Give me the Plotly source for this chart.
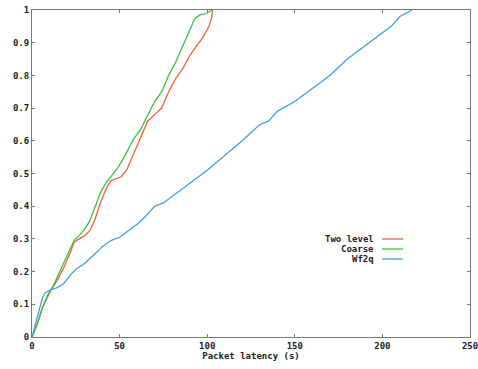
import plotly.graph_objects as go

names = ["Two level", "Coarse", "Wf2q"]
colors = ["#f0603c", "#3cc040", "#40a0e6"]

two_x = [0, 3, 6, 9, 11, 14, 18, 22, 24, 27, 30, 33, 36, 39, 42, 45, 48, 51, 54, 58, 62, 66, 70, 74, 78, 82, 86, 90, 94, 98, 101, 102.5, 103]
two_y = [0, 0.04, 0.09, 0.125, 0.145, 0.17, 0.21, 0.26, 0.29, 0.3, 0.31, 0.325, 0.36, 0.41, 0.45, 0.478, 0.485, 0.49, 0.51, 0.56, 0.61, 0.66, 0.68, 0.70, 0.75, 0.79, 0.82, 0.86, 0.89, 0.92, 0.95, 0.975, 1.0]

coarse_x = [0, 3, 6, 9, 12, 15, 18, 21, 24, 27, 30, 33, 36, 39, 42, 45, 48, 51, 54, 58, 62, 66, 70, 74, 78, 82, 86, 90, 93, 96, 100, 102.5]
coarse_y = [0, 0.04, 0.09, 0.13, 0.155, 0.19, 0.225, 0.26, 0.295, 0.31, 0.33, 0.355, 0.395, 0.44, 0.47, 0.49, 0.51, 0.535, 0.565, 0.605, 0.635, 0.68, 0.72, 0.75, 0.8, 0.84, 0.89, 0.94, 0.975, 0.985, 0.99, 1.0]

wf_x = [0, 3, 6, 7.5, 10, 14, 18, 22, 25, 30, 35, 40, 45, 50, 55, 60, 65, 70, 75, 80, 90, 100, 110, 120, 130, 135, 140, 150, 160, 170, 180, 190, 200, 205, 210, 217]
wf_y = [0, 0.06, 0.12, 0.135, 0.143, 0.15, 0.163, 0.19, 0.207, 0.225, 0.25, 0.275, 0.295, 0.305, 0.325, 0.345, 0.37, 0.4, 0.41, 0.43, 0.47, 0.51, 0.555, 0.6, 0.65, 0.66, 0.69, 0.72, 0.76, 0.8, 0.85, 0.89, 0.93, 0.95, 0.98, 1.0]

x_ticks = [0, 50, 100, 150, 200, 250]
y_ticks = [0, 0.1, 0.2, 0.3, 0.4, 0.5, 0.6, 0.7, 0.8, 0.9, 1]
y_labels = ["0", "0.1", "0.2", "0.3", "0.4", "0.5", "0.6", "0.7", "0.8", "0.9", "1"]
x_title = "Packet latency (s)"

series = [(two_x, two_y), (coarse_x, coarse_y), (wf_x, wf_y)]

font = dict(family="DejaVu Sans Mono", size=9, color="#222")

fig = go.Figure()
for (xs, ys), n, c in zip(series, names, colors):
    fig.add_trace(go.Scatter(x=xs, y=ys, mode="lines", name=n,
                             line=dict(color=c, width=1.3), showlegend=False,
                             cliponaxis=False))

# gnuplot-style key: right-aligned text then a line sample
leg_y0 = 239
for i, (n, c) in enumerate(zip(names, colors)):
    ypx = leg_y0 + i * 10
    yp = 1 - (ypx - 10) / 327
    xp_text = (376 - 32) / 438
    fig.add_annotation(x=xp_text, y=yp, xref="paper", yref="paper", text="<b>%s</b>" % n,
                       showarrow=False, xanchor="right", yanchor="middle", font=font)
    fig.add_shape(type="line", xref="paper", yref="paper",
                  x0=(382 - 32) / 438, x1=(403 - 32) / 438, y0=yp, y1=yp,
                  line=dict(color=c, width=1.3))

axis_common = dict(showgrid=False, zeroline=False, showline=True, linecolor="#777",
                   linewidth=1, mirror="ticks", ticks="inside", ticklen=3,
                   tickcolor="#777", tickfont=font, automargin=False,
                   ticklabeloverflow="allow")

fig.update_xaxes(range=[0, 250], tickvals=x_ticks,
                 ticktext=["<b>%d</b>" % v for v in x_ticks],
                 title=dict(text="<b>%s</b>" % x_title, font=font, standoff=2),
                 **axis_common)
fig.update_yaxes(range=[0, 1], tickvals=y_ticks,
                 ticktext=["<b>%s</b>" % t for t in y_labels],
                 **axis_common)

fig.update_layout(width=478, height=369, margin=dict(l=32, r=8, t=10, b=32),
                  plot_bgcolor="white", paper_bgcolor="white")

fig.write_html("out.html", config={"displayModeBar": False},
               post_script="document.body.style.margin='0';document.body.style.overflow='hidden';")
